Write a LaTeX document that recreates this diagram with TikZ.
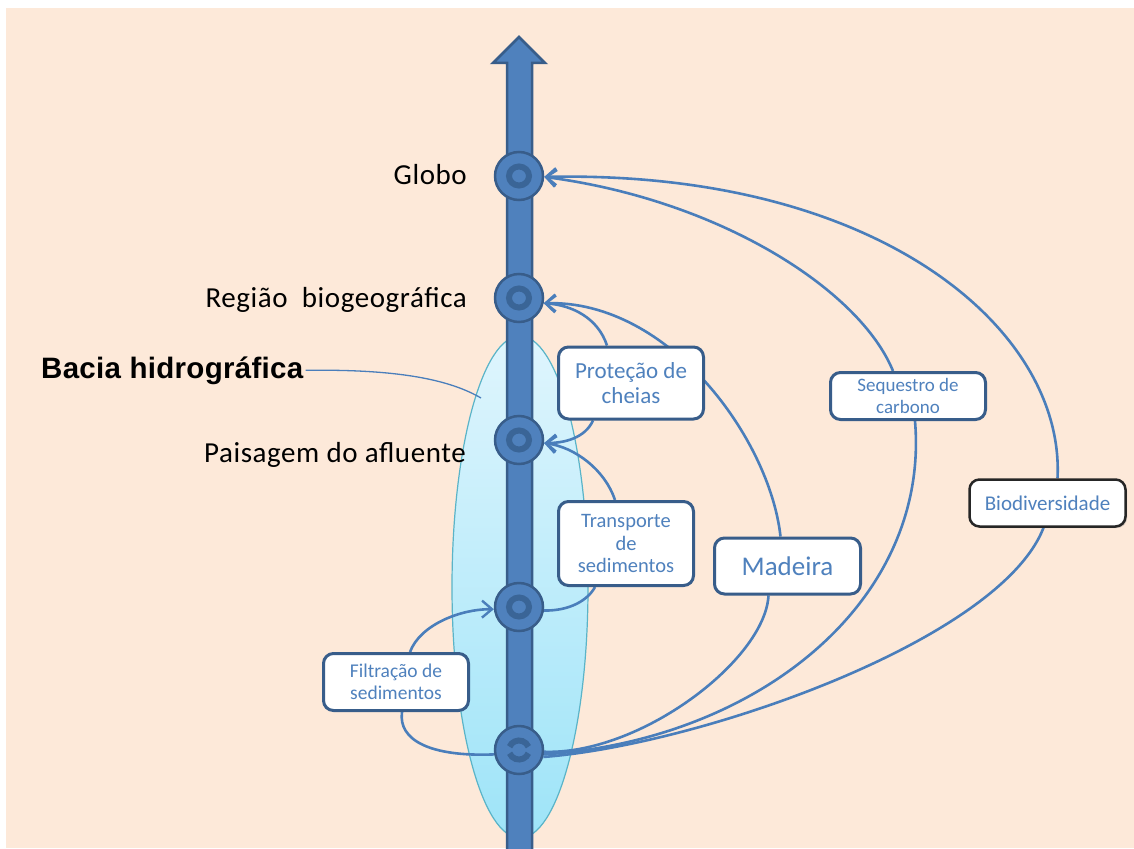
\documentclass[tikz,border=0pt]{standalone}
\usepackage{fontspec}
\setmainfont{Carlito}
\newfontfamily\lblfont[LetterSpace=2]{Carlito}
\newfontfamily\bacfont[LetterSpace=1]{Liberation Sans}
\usetikzlibrary{arrows.meta,calc,shapes.geometric,shadows}
\definecolor{peach}{HTML}{FDE9D9}
\definecolor{bfill}{HTML}{4F81BD}
\definecolor{bdark}{HTML}{385D8A}
\definecolor{ringc}{HTML}{3A6597}
\definecolor{linec}{HTML}{4A7EBB}
\definecolor{tblue}{HTML}{4F81BD}
\definecolor{elltop}{HTML}{DFF5FD}
\definecolor{ellbot}{HTML}{9EE4F8}
\definecolor{elledge}{HTML}{5AB4C8}
\pgfdeclarelayer{bg}
\pgfdeclarelayer{conn}
\pgfsetlayers{bg,conn,main}
\tikzset{
  lvl/.style={circle, minimum size=48pt, inner sep=0pt, fill=bfill, draw=bdark, line width=2.5pt},
  ring/.style={draw=ringc, line width=6pt},
  box/.style={rectangle, draw=bdark, line width=3pt, fill=white, rounded corners=10pt,
    align=center, text=tblue, inner sep=0pt},
  lbl/.style={inner sep=0pt, text=black, font=\lblfont\fontsize{29}{31}\selectfont},
  conn/.style={draw=linec, line width=2.6pt},
  arr/.style={-{Straight Barb[length=10pt,width=17pt,line width=2.4pt]}}
}
\begin{document}
\begin{tikzpicture}[x=1pt,y=-1pt]
\useasboundingbox (0,0) rectangle (1134,848);
\begin{pgfonlayer}{bg}
  \fill[white] (0,0) rectangle (1134,848);
  \fill[peach] (6,8) rectangle (1134,848);
  \node[ellipse, minimum width=136pt, minimum height=502pt, inner sep=0pt,
        top color=elltop, bottom color=ellbot, draw=elledge, line width=1.2pt] (basin) at (520,587) {};
  % main vertical arrow
  \draw[fill=bfill, draw=bdark, line width=2.5pt, line join=miter]
    (507,852) -- (507,63) -- (493,63) -- (519,37) -- (545,63) -- (532,63) -- (532,852) -- cycle;
  \node[lvl] (c1) at (519,176) {};
  \node[lvl] (c2) at (519,298) {};
  \node[lvl] (c3) at (519,440) {};
  \node[lvl] (c4) at (519,607) {};
  \node[lvl] (c5) at (519,750) {};
  \draw[ring] (c1) ellipse [x radius=10, y radius=9.5];
  \draw[ring] (c2) ellipse [x radius=10, y radius=9.5];
  \draw[ring] (c3) ellipse [x radius=10, y radius=9.5];
  \draw[ring] (c4) ellipse [x radius=10, y radius=9.5];
  \draw[ring] ($(c5)+({10*cos(200)},{9.5*sin(200)})$) arc[start angle=200, end angle=340, x radius=10, y radius=9.5];
  \draw[ring] ($(c5)+({10*cos(20)},{9.5*sin(20)})$) arc[start angle=20, end angle=160, x radius=10, y radius=9.5];
\end{pgfonlayer}

% boxes
\node[box, minimum width=145pt, minimum height=72pt, font=\fontsize{23}{25}\selectfont] (prot) at (631,383) {Proteção de\\cheias};
\node[box, minimum width=155pt, minimum height=47pt, font=\fontsize{19}{21.5}\selectfont] (seq) at (908,396) {Sequestro de\\carbono};
\node[box, draw=black!85, line width=2.5pt, minimum width=156pt, minimum height=47pt,
      drop shadow={shadow xshift=1.5pt, shadow yshift=-1.5pt, opacity=0.35},
      font=\fontsize{21}{24}\selectfont] (bio) at (1047.5,503) {Biodiversidade};
\node[box, minimum width=146pt, minimum height=56pt, font=\fontsize{27}{30}\selectfont] (mad) at (787.5,566) {Madeira};
\node[box, minimum width=135pt, minimum height=84pt, font=\fontsize{20.5}{22.5}\selectfont] (trans) at (626,543.5) {Transporte\\de\\sedimentos};
\node[box, minimum width=145pt, minimum height=57pt, font=\fontsize{19.5}{22.5}\selectfont] (filt) at (396,682) {Filtração de\\sedimentos};

% left labels
\node[lbl, anchor=base east] (globo) at (467,184) {Globo};
\node[lbl, anchor=base east] (regiao) at (467,307) {Região\ \ biogeográfica};
\node[lbl, anchor=base east] (paisagem) at (466,462) {Paisagem do afluente};
\node[inner sep=0pt, anchor=base west, font=\bacfont\bfseries\fontsize{29.5}{31}\selectfont] (bacia) at (41,378) {Bacia hidrográfica};
\coordinate (bacEnd) at (481,398);

\begin{pgfonlayer}{conn}
  \draw[draw=linec, line width=1.3pt] ([xshift=2pt]bacia.east) .. controls (400,369) and (450,380) .. (bacEnd);
  % filtration
  \draw[conn] (c5.190) .. controls (430,757) and (398,740) .. ($(filt.south)+(6,0)$);
  \draw[conn,arr] ($(filt.north)+(14,0)$) .. controls (420,625) and (460,609) .. (c4.185);
  % transport
  \draw[conn] (c4.-8) .. controls (570,611) and (588,600) .. ($(trans.south)+(-31,0)$);
  \draw[conn,arr] ($(trans.north)+(-11,0)$) .. controls (605,470) and (575,447) .. (c3.-7);
  % protection
  \draw[conn,arr] ($(prot.south)+(-38,0)$) .. controls (585,438) and (565,443) .. (c3.-7);
  \draw[conn,arr] ($(prot.north)+(-24,0)$) .. controls (598,318) and (572,305) .. (c2.-12);
  % madeira
  \draw[conn] (c5.-4) .. controls (640,755) and (765,660) .. ($(mad.south)+(-19,0)$);
  \draw[conn,arr] ($(mad.north)+(-7,0)$) .. controls (770,440) and (670,300) .. (c2.-12);
  % sequestro
  \draw[conn] (c5.-10) .. controls (760,740) and (930,600) .. ($(seq.south)+(7,0)$);
  \draw[conn,arr] ($(seq.north)+(-15,0)$) .. controls (860,290) and (720,200) .. (c1.-2);
  % biodiversidade
  \draw[conn] (c5.-16) .. controls (700,745) and (1000,640) .. ($(bio.south)+(-4,0)$);
  \draw[conn,arr] ($(bio.north)+(10,0)$) .. controls (1065,330) and (880,170) .. (c1.-2);
\end{pgfonlayer}
\end{tikzpicture}
\end{document}
